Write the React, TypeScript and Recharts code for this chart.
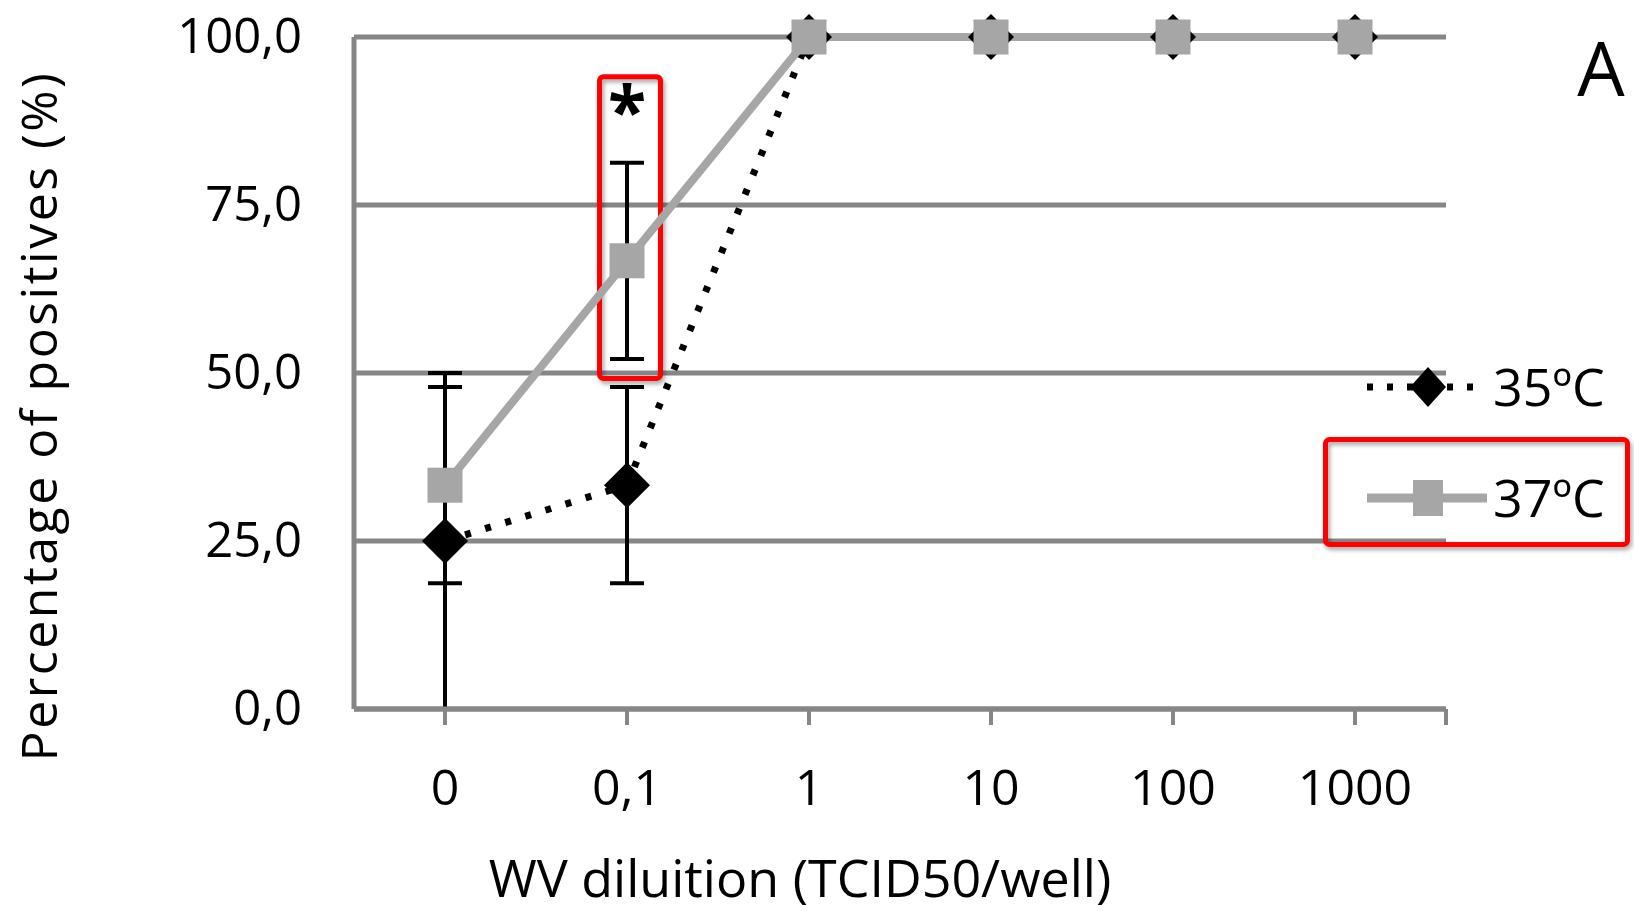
import React from 'react';
import {
  LineChart,
  Line,
  XAxis,
  YAxis,
  CartesianGrid,
  ErrorBar,
  ReferenceArea,
  ReferenceDot,
  Legend,
} from 'recharts';

const FONT = '"Open Sans", "DejaVu Sans", sans-serif';

const categories = ['0', '0,1', '1', '10', '100', '1000'];
const series35 = [25, 33.3, 100, 100, 100, 100];
const series37 = [33.3, 66.7, 100, 100, 100, 100];
const err35 = [25, 14.6, 0, 0, 0, 0];
const err37 = [14.6, 14.6, 0, 0, 0, 0];
const yTicks = [0, 25, 50, 75, 100];
const xTicks = [0, 1, 2, 3, 4, 5, 5.5];
const seriesNames = ['35ºC', '37ºC'];
const xTitle = 'WV diluition (TCID50/well)';
const yTitle = 'Percentage of positives (%)';
const panelLetter = 'A';

const data = categories.map((c, i) => ({
  idx: i,
  label: c,
  s35: series35[i],
  s37: series37[i],
  e35: err35[i],
  e37: err37[i],
}));

const GRID = '#868686';
const GRAY = '#a6a6a6';

const Diamond = (p: any) => {
  const { cx, cy } = p;
  if (cx == null || cy == null) return <g />;
  const h = 23;
  return (
    <polygon
      key={p.key}
      points={`${cx},${cy - h} ${cx + h},${cy} ${cx},${cy + h} ${cx - h},${cy}`}
      fill="#000"
    />
  );
};

const Square = (p: any) => {
  const { cx, cy } = p;
  if (cx == null || cy == null) return <g />;
  const s = 35;
  return <rect key={p.key} x={cx - s / 2} y={cy - s / 2} width={s} height={s} fill={GRAY} />;
};

const YTick = (p: any) => {
  const { x, y, payload } = p;
  return (
    <text x={x} y={y + 16} textAnchor="end" fontSize={49} fontFamily={FONT} fill="#000">
      {Number(payload.value).toFixed(1).replace('.', ',')}
    </text>
  );
};

const renderLegend = () => (
  <svg width={334} height={220} style={{ overflow: 'visible', display: 'block' }}>
    <defs>
      <filter id="shadowL" x="-10%" y="-10%" width="130%" height="140%">
        <feDropShadow dx="2" dy="3" stdDeviation="2" floodColor="#000" floodOpacity="0.35" />
      </filter>
    </defs>
    <rect x={25.5} y={99.5} width={302} height={105} rx={4} fill="none" stroke="#ff0000" strokeWidth={5} filter="url(#shadowL)" />
    <line x1={67} x2={182} y1={47} y2={47} stroke="#000" strokeWidth={7} strokeDasharray="6 14" />
    <polygon points={`128,27 146,47 128,67 110,47`} fill="#000" />
    <text x={193} y={65.5} fontSize={52} fontFamily={FONT} fill="#000">{seriesNames[0]}</text>
    <line x1={67} x2={187} y1={158} y2={158} stroke={GRAY} strokeWidth={9} />
    <rect x={113} y={140} width={30} height={36} fill={GRAY} />
    <text x={193} y={176.5} fontSize={52} fontFamily={FONT} fill="#000">{seriesNames[1]}</text>
  </svg>
);

const RedBox = (p: any) => {
  const { x, y, width, height } = p;
  return (
    <rect
      x={x}
      y={y}
      width={width}
      height={height}
      rx={4}
      fill="none"
      stroke="#ff0000"
      strokeWidth={5}
      style={{ filter: 'drop-shadow(2px 3px 2px rgba(0,0,0,0.35))' }}
    />
  );
};

const Asterisk = (p: any) => {
  const { cx, cy } = p;
  return (
    <text x={cx} y={cy + 36} textAnchor="middle" fontSize={70} fontWeight="bold" fontFamily={FONT} fill="#000">
      *
    </text>
  );
};

export default function App() {
  return (
    <div style={{ position: 'absolute', left: 0, top: 0, width: 1634, height: 912, background: '#fff', fontFamily: FONT }}>
      <LineChart width={1634} height={912} data={data} margin={{ top: 37, right: 188, left: 0, bottom: 0 }}>
        <CartesianGrid horizontal vertical={false} stroke={GRID} strokeWidth={5} />
        <XAxis
          dataKey="idx"
          type="number"
          domain={[-0.5, 5.5]}
          ticks={xTicks}
          interval={0}
          tickFormatter={(v: number) => (Number.isInteger(v) ? categories[v] : '')}
          height={203}
          axisLine={{ stroke: GRID, strokeWidth: 5 }}
          tickLine={{ stroke: GRID, strokeWidth: 4 }}
          tickSize={16}
          tickMargin={44}
          tick={{ fill: '#000', fontSize: 50, fontFamily: FONT }}
          label={{
            content: () => (
              <text x={800} y={897} textAnchor="middle" fontSize={52} fontFamily={FONT} fill="#000">
                {xTitle}
              </text>
            ),
          }}
        />
        <YAxis
          type="number"
          domain={[0, 100]}
          ticks={yTicks}
          width={354}
          axisLine={{ stroke: GRID, strokeWidth: 5 }}
          tickLine={false}
          tickSize={0}
          tickMargin={52}
          tick={YTick}
          label={{
            content: () => (
              <text
                x={38}
                y={416}
                transform="rotate(-90, 38, 416)"
                textAnchor="middle"
                dominantBaseline="central"
                fontSize={50}
                letterSpacing={2.5}
                fontFamily={FONT}
                fill="#000"
              >
                {yTitle}
              </text>
            ),
          }}
        />
        <Line
          dataKey="s35"
          name={seriesNames[0]}
          stroke="#000"
          strokeWidth={7}
          strokeDasharray="6 15"
          dot={Diamond}
          activeDot={false}
          isAnimationActive={false}
        >
          <ErrorBar dataKey="e35" direction="y" width={17} strokeWidth={4} stroke="#000" isAnimationActive={false} />
        </Line>
        <Line
          dataKey="s37"
          name={seriesNames[1]}
          stroke={GRAY}
          strokeWidth={8}
          dot={Square}
          activeDot={false}
          isAnimationActive={false}
        >
          <ErrorBar dataKey="e37" direction="y" width={17} strokeWidth={4} stroke="#000" isAnimationActive={false} />
        </Line>
        <ReferenceArea x1={0.849} x2={1.184} y1={49.2} y2={94.1} ifOverflow="visible" shape={RedBox} />
        <ReferenceDot x={1} y={90.6} r={0} ifOverflow="visible" shape={Asterisk} />
        <Legend
          layout="vertical"
          align="center"
          verticalAlign="middle"
          content={renderLegend}
          wrapperStyle={{ position: 'absolute', left: 1300, top: 340, width: 334, height: 220 }}
        />
      </LineChart>
      <svg width={1634} height={912} style={{ position: 'absolute', left: 0, top: 0, pointerEvents: 'none' }}>
        <text x={1601} y={96} textAnchor="middle" fontSize={75} fontFamily={FONT} fill="#000">
          {panelLetter}
        </text>
      </svg>
    </div>
  );
}
